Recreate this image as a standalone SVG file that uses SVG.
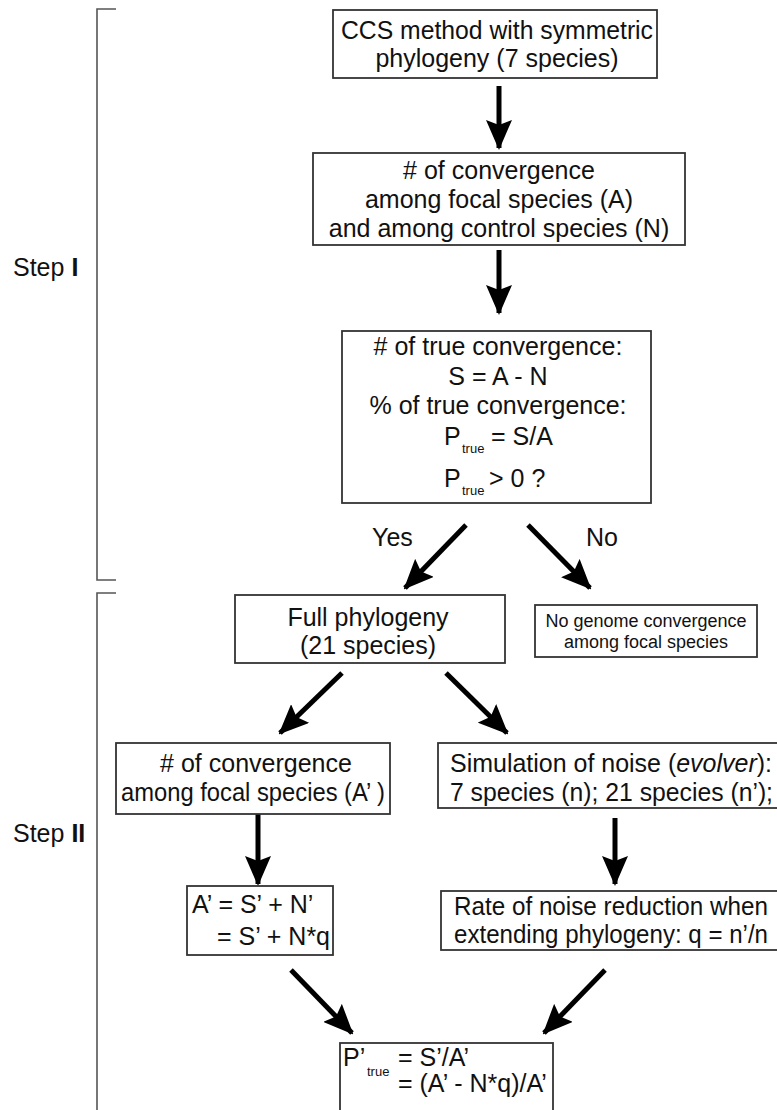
<svg xmlns="http://www.w3.org/2000/svg" width="777" height="1110" viewBox="0 0 777 1110">
<style>
.box{fill:#fff;stroke:#333;stroke-width:1.8}
.t{font-family:"Liberation Sans",Arial,sans-serif;font-size:25px;fill:#111}
.c{text-anchor:middle}
.s{font-family:"Liberation Sans",Arial,sans-serif;font-size:13px;fill:#111}
.sm{font-family:"Liberation Sans",Arial,sans-serif;font-size:18px;fill:#111;text-anchor:middle}
.br{fill:none;stroke:#555;stroke-width:1.6}
.ar{stroke:#000;stroke-width:5;fill:none;marker-end:url(#ah)}
</style>
<defs>
<marker id="ah" markerUnits="userSpaceOnUse" viewBox="0 0 30 26" refX="28" refY="13" markerWidth="30" markerHeight="26" orient="auto">
<path d="M0,0 L30,13 L0,26 L5,13 z" fill="#000"/>
</marker>
</defs>
<rect width="777" height="1110" fill="#fff"/>

<g id="brackets">
<path class="br" d="M116,9 H97 V580 H116"/>
<path class="br" d="M116,593 H97 V1112"/>
</g>
<g id="step1"><text class="t" x="13" y="276" font-size="24">Step <tspan font-weight="bold">I</tspan></text></g>
<g id="step2"><text class="t" x="13" y="842" font-size="24">Step <tspan font-weight="bold">II</tspan></text></g>

<g id="connectors">
<line class="ar" x1="499" y1="86" x2="499" y2="148"/>
<line class="ar" x1="499" y1="250" x2="499" y2="313"/>
<line class="ar" x1="466" y1="525" x2="405" y2="588"/>
<line class="ar" x1="528" y1="525" x2="590" y2="588"/>
<line class="ar" x1="342" y1="673" x2="280" y2="733"/>
<line class="ar" x1="446" y1="673" x2="507" y2="733"/>
<line class="ar" x1="258" y1="814" x2="258" y2="884"/>
<line class="ar" x1="615" y1="818" x2="615" y2="884"/>
<line class="ar" x1="291" y1="970" x2="352" y2="1033"/>
<line class="ar" x1="605" y1="970" x2="544" y2="1033"/>
</g>

<g id="n1">
<rect class="box" x="333" y="10" width="324" height="68"/>
<text class="t c" x="497" y="39" textLength="312" lengthAdjust="spacingAndGlyphs">CCS method with symmetric</text>
<text class="t c" x="497" y="67">phylogeny (7 species)</text>
</g>

<g id="n2">
<rect class="box" x="313" y="153" width="372" height="92"/>
<text class="t c" x="499" y="179"># of convergence</text>
<text class="t c" x="499" y="208">among focal species (A)</text>
<text class="t c" x="499" y="237">and among control species (N)</text>
</g>

<g id="n3">
<rect class="box" x="342" y="331" width="309" height="172"/>
<text class="t c" x="498" y="355"># of true convergence:</text>
<text class="t c" x="498" y="385">S = A - N</text>
<text class="t c" x="498" y="414">% of true convergence:</text>
<text class="t" x="444" y="445">P</text>
<text class="s" x="462" y="453">true</text>
<text class="t" x="491" y="445">= S/A</text>
<text class="t" x="444" y="487">P</text>
<text class="s" x="462" y="495">true</text>
<text class="t" x="489" y="487">&gt; 0 ?</text>
</g>

<g id="lbl-yes"><text class="t" x="372" y="546" font-size="24">Yes</text></g>
<g id="lbl-no"><text class="t" x="586" y="546" font-size="24">No</text></g>

<g id="n4">
<rect class="box" x="235" y="595" width="270" height="68"/>
<text class="t c" x="368" y="626">Full phylogeny</text>
<text class="t c" x="368" y="654">(21 species)</text>
</g>

<g id="n5">
<rect class="box" x="535" y="605" width="222" height="52"/>
<text class="sm" x="646" y="627">No genome convergence</text>
<text class="sm" x="646" y="648">among focal species</text>
</g>

<g id="n6">
<rect class="box" x="116" y="743" width="274" height="71"/>
<text class="t c" x="256" y="772"># of convergence</text>
<text class="t c" x="253" y="801" textLength="264" lengthAdjust="spacingAndGlyphs">among focal species (A’ )</text>
</g>

<g id="n7">
<rect class="box" x="438" y="743" width="350" height="65"/>
<text class="t" x="450" y="772" textLength="322" lengthAdjust="spacingAndGlyphs">Simulation of noise (<tspan font-style="italic">evolver</tspan>):</text>
<text class="t" x="450" y="801" textLength="323" lengthAdjust="spacingAndGlyphs">7 species (n); 21 species (n’);</text>
</g>

<g id="n8">
<rect class="box" x="187" y="886" width="146" height="69"/>
<text class="t" x="192" y="913">A’ = S’ + N’</text>
<text class="t" x="217" y="945">= S’ + N*q</text>
</g>

<g id="n9">
<rect class="box" x="441" y="891" width="350" height="59"/>
<text class="t" x="454" y="915" font-size="24" textLength="314" lengthAdjust="spacingAndGlyphs">Rate of noise reduction when</text>
<text class="t" x="454" y="943" font-size="24" textLength="314" lengthAdjust="spacingAndGlyphs">extending phylogeny: q = n’/n</text>
</g>

<g id="n10">
<rect class="box" x="340" y="1043" width="213" height="80"/>
<text class="t" x="343" y="1066">P’</text>
<text class="s" x="367" y="1076">true</text>
<text class="t" x="398" y="1066">= S’/A’</text>
<text class="t" x="398" y="1092">= (A’ - N*q)/A’</text>
</g>
</svg>
